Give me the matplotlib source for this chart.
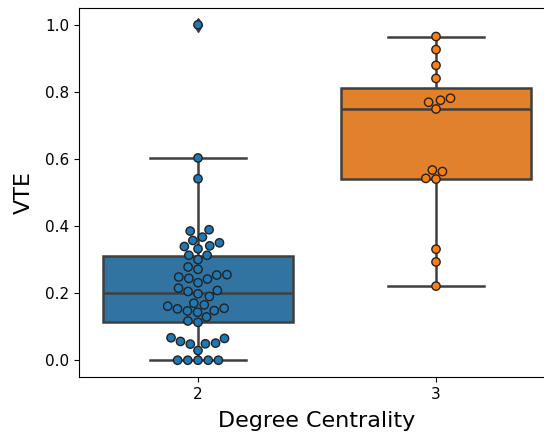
import numpy as np
import pandas as pd
import matplotlib
matplotlib.use('Agg')
import matplotlib.pyplot as plt
import seaborn as sns

# VTE values per degree-centrality group
vte_deg2 = [
    0.0, 0.0, 0.0, 0.0, 0.0,
    0.029, 0.048, 0.049, 0.051, 0.056, 0.065, 0.067,
    0.113, 0.117, 0.129,
    0.143, 0.147, 0.148, 0.153, 0.155, 0.161,
    0.165, 0.170,
    0.190, 0.198, 0.205, 0.208, 0.215,
    0.231, 0.242, 0.244, 0.248, 0.254, 0.255,
    0.271, 0.278, 0.300, 0.313, 0.313,
    0.332, 0.339, 0.341, 0.350, 0.357, 0.367,
    0.385, 0.389, 0.541, 0.603, 1.0,
]
vte_deg3 = [
    0.221, 0.293, 0.331,
    0.540, 0.542, 0.5625, 0.567,
    0.749, 0.769, 0.775, 0.781,
    0.840, 0.879, 0.926, 0.965,
]
categories = ['2', '3']

df = pd.DataFrame({
    'Degree Centrality': [categories[0]] * len(vte_deg2) + [categories[1]] * len(vte_deg3),
    'VTE': vte_deg2 + vte_deg3,
})

box_colors = ['#3274a1', '#e1812c']
dot_colors = ['#1f77b4', '#ff7f0e']
line_col = '#3f3f3f'

fig = plt.figure(figsize=(5.44, 4.33), dpi=100)
ax = fig.add_axes([79 / 544, 56 / 433, 476 / 544, 369 / 433])

sns.boxplot(data=df, x='Degree Centrality', y='VTE', order=categories,
            hue='Degree Centrality', hue_order=categories, palette=box_colors,
            saturation=1, width=0.8, linewidth=1.8, linecolor=line_col,
            flierprops=dict(marker='d', markerfacecolor=line_col,
                            markeredgecolor=line_col, markersize=7),
            legend=False, ax=ax)
sns.swarmplot(data=df, x='Degree Centrality', y='VTE', order=categories,
              hue='Degree Centrality', hue_order=categories, palette=dot_colors,
              size=6, linewidth=1, edgecolor='#222222', legend=False, ax=ax)

ax.set_xlim(-0.5, 1.5)
ax.set_ylim(-0.05, 1.05)
ax.set_yticks([0.0, 0.2, 0.4, 0.6, 0.8, 1.0])
ax.tick_params(labelsize=11)
ax.set_xlabel('Degree Centrality', fontsize=16, labelpad=7)
ax.set_ylabel('VTE', fontsize=16, labelpad=8)

fig.savefig('out.png', dpi=100)
